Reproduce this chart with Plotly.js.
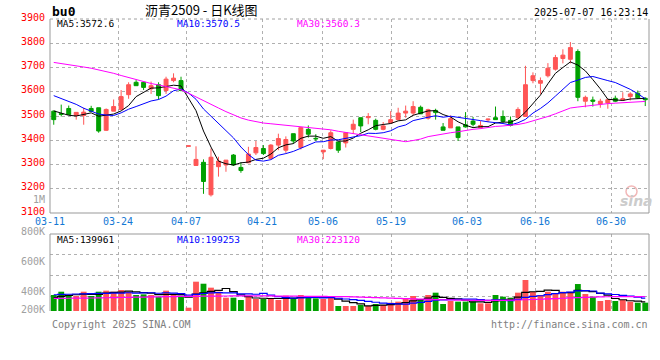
<!DOCTYPE html>
<html><head><meta charset="utf-8">
<script src="https://cdn.plot.ly/plotly-3.0.1.min.js"></script>
<style>html,body{margin:0;padding:0;background:#fff}#chart{width:660px;height:360px}</style>
</head><body><div id="chart"></div>
<script>
const dates = ['03-11','03-12','03-13','03-14','03-17','03-18','03-19','03-20','03-21','03-24','03-25','03-26','03-27','03-28','03-31','04-01','04-02','04-03','04-07','04-08','04-09','04-10','04-11','04-14','04-15','04-16','04-17','04-18','04-21','04-22','04-23','04-24','04-25','04-28','04-29','04-30','05-06','05-07','05-08','05-09','05-12','05-13','05-14','05-15','05-16','05-19','05-20','05-21','05-22','05-23','05-26','05-27','05-28','05-29','05-30','06-03','06-04','06-05','06-06','06-09','06-10','06-11','06-12','06-13','06-16','06-17','06-18','06-19','06-20','06-23','06-24','06-25','06-26','06-27','06-30','07-01','07-02','07-03','07-04','07-07'];
const open  = [3520,3510,3531,3502,3502,3531,3534,3441,3520,3527, 3588,3639,3639,3612,3629,3605,3646,3646,3375,3296, 3309,3175,3291,3298,3339,3288,3307,3348,3366,3325, 3380,3359,3427,3370,3445,3408,3352,3366,3393,3389, 3445,3493,3493,3482,3445,3471,3485,3512,3512,3536, 3491,3523,3455,3451,3455,3464,3479,3452,3484,3493, 3498,3482,3493,3498,3646,3635,3666,3693,3737,3734, 3766,3561,3566,3550,3554,3573,3566,3580,3594,3573];
const high  = [3522,3547,3543,3515,3534,3542,3534,3531,3568,3607, 3639,3648,3642,3642,3639,3662,3676,3662,3377,3375, 3321,3366,3332,3318,3343,3309,3373,3397,3380,3384, 3427,3416,3427,3455,3461,3425,3359,3441,3393,3434, 3485,3493,3512,3489,3475,3520,3534,3543,3561,3543, 3530,3530,3471,3502,3455,3516,3496,3479,3489,3539, 3523,3498,3536,3707,3680,3659,3718,3752,3775,3805, 3775,3584,3580,3571,3571,3584,3598,3598,3605,3577];
const low   = [3464,3498,3506,3485,3464,3518,3431,3438,3520,3527, 3571,3625,3607,3591,3568,3591,3639,3602,3374,3296, 3179,3168,3250,3270,3294,3266,3307,3339,3339,3321, 3359,3348,3386,3362,3411,3397,3322,3362,3348,3370, 3427,3434,3466,3441,3441,3471,3482,3493,3502,3509, 3485,3485,3441,3451,3397,3452,3457,3448,3475,3485, 3471,3457,3489,3498,3635,3591,3659,3687,3717,3717, 3561,3536,3539,3534,3530,3557,3564,3564,3571,3541];
const close = [3485,3507,3506,3515,3516,3519,3438,3527,3539,3580, 3629,3625,3618,3625,3584,3652,3656,3605,3377,3321, 3230,3330,3314,3318,3298,3275,3343,3370,3345,3380, 3407,3403,3397,3452,3425,3406,3359,3431,3359,3431, 3466,3459,3498,3445,3459,3485,3512,3520,3539,3509, 3526,3514,3441,3489,3411,3455,3466,3461,3487,3485, 3478,3461,3527,3629,3666,3646,3697,3741,3751,3782, 3577,3577,3561,3561,3567,3561,3571,3591,3575,3567];
const ma5  = [3521,3513,3503,3500,3506,3513,3499,3503,3508,3521, 3543,3580,3598,3615,3616,3621,3627,3624,3575,3522, 3438,3372,3314,3303,3298,3307,3310,3321,3326,3343, 3369,3381,3386,3408,3417,3417,3408,3415,3396,3397, 3409,3429,3443,3460,3465,3469,3480,3484,3503,3513, 3521,3522,3506,3496,3476,3462,3452,3456,3456,3471, 3475,3474,3488,3516,3552,3586,3633,3676,3700,3723, 3710,3686,3650,3612,3569,3565,3564,3570,3573,3573];
const ma10 = [3584,3572,3561,3548,3532,3520,3508,3504,3502,3513, 3528,3539,3551,3562,3568,3582,3604,3611,3595,3569, 3529,3500,3469,3439,3410,3372,3341,3318,3314,3320, 3338,3345,3354,3367,3380,3393,3394,3401,3402,3407, 3413,3419,3429,3428,3431,3439,3455,3463,3481,3489, 3495,3501,3495,3499,3495,3492,3487,3481,3476,3474, 3469,3463,3472,3486,3512,3531,3554,3582,3608,3638, 3648,3659,3663,3656,3646,3638,3625,3610,3592,3571];
const ma30 = [3721,3717,3712,3707,3702,3697,3691,3684,3676,3667, 3658,3649,3641,3634,3628,3622,3617,3608,3594,3578, 3563,3548,3533,3518,3504,3492,3483,3476,3471,3468, 3465,3461,3458,3456,3453,3449,3446,3443,3437,3432, 3427,3421,3417,3411,3407,3401,3397,3394,3399,3405, 3415,3421,3426,3431,3435,3441,3445,3448,3453,3457, 3459,3461,3465,3471,3479,3487,3498,3509,3522,3533, 3537,3541,3543,3547,3551,3553,3555,3558,3559,3560];
const volK = [246,297,231,231,297,231,297,313,297,323, 297,246,256,246,220,313,246,236,51,451, 420,359,297,205,205,169,236,185,185,185, 169,236,205,246,231,195,185,231,77,77, 77,92,77,108,92,128,144,185,231,185, 246,282,108,154,144,144,144,118,118,246, 220,205,282,477,297,246,297,272,297,297, 415,262,220,154,169,154,169,144,128,128];
const volMa5 = [205,225,240,250,260,257,257,274,287,292, 305,295,284,274,253,256,256,252,213,259, 281,303,316,346,297,247,222,200,196,192, 192,192,196,208,217,223,212,218,184,153, 129,111,80,86,89,99,110,131,156,175, 198,226,210,195,187,166,139,141,134,154, 169,181,214,286,296,301,320,318,282,282, 316,309,298,270,244,192,173,158,153,140];
const volMa10 = [250,255,258,262,265,268,270,272,274,276, 281,276,279,281,273,281,276,268,244,256, 269,280,284,280,278,264,263,258,271,245, 220,207,198,202,205,208,202,207,196,185, 176,162,149,135,121,114,111,106,121,132, 149,168,171,176,181,182,183,176,165,171, 168,160,178,210,225,235,251,266,284,289, 309,315,308,276,263,254,241,228,212,199];
const volMa30 = [195,195,196,197,198,200,202,204,206,208, 210,212,214,216,218,220,222,224,225,226, 228,229,230,231,232,233,234,234,233,232, 230,229,228,227,226,225,224,223,222,221, 218,214,210,206,202,198,194,190,186,182, 179,176,173,170,168,166,164,163,162,162, 164,166,169,173,177,181,186,191,196,201, 206,210,214,217,219,220,221,222,222,223];
const tickLabels = ['03-11','03-24','04-07','04-21','05-06','05-19','06-03','06-16','06-30'];
const priceTicks = [3100,3200,3300,3400,3500,3600,3700,3800,3900];
const volLabels = ['1M','800K','600K','400K','200K'];
const legendPrice = ['MA5:3572.6','MA10:3570.5','MA30:3560.3'];
const legendVol = ['MA5:139961','MA10:199253','MA30:223120'];

const N = dates.length;
const xIdx = dates.map((d, i) => i);
const UP = '#ff5555', DOWN = '#00a000';
const MA_COLORS = ['#000000', '#0000ff', '#ff00ff'];
const MONO = 'DejaVu Sans Mono, monospace';
const volColors = close.map((c, i) => (c >= open[i] ? UP : DOWN));
const tickPos = tickLabels.map(t => dates.indexOf(t) * N / (N - 1) - 0.5);

const H = 360, T = 19, B = 49, plotH = H - T - B;
const py = ypx => (H - B - ypx) / plotH;      // paper y from pixel row
const px = xpx => (xpx - 50) / 599;           // paper x from pixel column
const priceDom = [py(213), 1];
const volDom = [0, py(234)];
const volTop = 1185;
const volGrid = [1, 2, 3].map(k => volTop * (1 - k * 20.7 / 77));

const traces = [];
traces.push({
  type: 'candlestick', x: xIdx, open: open, high: high, low: low, close: close,
  xaxis: 'x', yaxis: 'y', whiskerwidth: 0, hoverinfo: 'skip',
  increasing: {line: {color: UP, width: 1}, fillcolor: UP},
  decreasing: {line: {color: DOWN, width: 1}, fillcolor: DOWN},
  showlegend: false
});
[ma5, ma10, ma30].forEach((s, k) => traces.push({
  type: 'scatter', mode: 'lines', x: xIdx, y: s, xaxis: 'x', yaxis: 'y',
  line: {color: MA_COLORS[k], width: 1}, hoverinfo: 'skip', showlegend: false
}));
traces.push({
  type: 'bar', x: xIdx, y: volK, xaxis: 'x2', yaxis: 'y2', width: 0.78,
  marker: {color: volColors, line: {width: 0}}, hoverinfo: 'skip', showlegend: false
});
[volMa5, volMa10, volMa30].forEach((s, k) => traces.push({
  type: 'scatter', mode: 'lines', x: xIdx, y: s, xaxis: 'x2', yaxis: 'y2',
  line: {color: MA_COLORS[k], width: 1.2, shape: 'hvh'}, hoverinfo: 'skip', showlegend: false
}));

const gridStyle = {showgrid: true, gridcolor: '#b0b0b0', gridwidth: 1, griddash: 'dot', zeroline: false, showline: false, ticks: ''};

const ann = [];
const txt = (text, x, y, xanchor, color, size, extra) => ann.push(Object.assign({
  text: text, x: x, y: y, xref: 'paper', yref: 'paper', xanchor: xanchor, yanchor: 'middle',
  showarrow: false, font: {family: MONO, size: size, color: color}
}, extra || {}));

// price axis labels (drawn a little above their grid lines, as in the reference)
priceTicks.forEach(v => txt(String(v), px(47), v, 'right', '#ff0000', 10, {yref: 'y', yshift: 2}));
// date labels under the price panel
tickLabels.forEach((t, k) => txt(t, tickPos[k], py(221.5), 'center', '#1478d4', 10, {xref: 'x'}));

txt('bu0', px(50), py(11.5), 'left', '#000', 13, {font: {family: MONO, size: 13, color: '#000', weight: 'bold'}});
txt('沥青2509 - 日K线图', px(201), py(10), 'center', '#000', 13, {font: {family: 'Noto Sans CJK SC', size: 13, color: '#000'}});
txt('2025-07-07 16:23:14', px(650), py(12), 'right', '#000', 10);
[55, 175, 295].forEach((x, k) => {
  txt(legendPrice[k], px(x), py(24), 'left', MA_COLORS[k], 9.5);
  txt(legendVol[k], px(x), py(239), 'left', MA_COLORS[k], 9.5);
});
[199, 231, 261, 291, 309.5].forEach((y, k) => txt(volLabels[k], px(47), py(y), 'right', '#a0a0a0', 10));
txt('Copyright 2025 SINA.COM', px(50), py(324), 'left', '#808080', 10);
txt('http://finance.sina.com.cn', px(650), py(324), 'right', '#808080', 10);
txt('sina', px(636), py(201), 'center', '#cccccc', 14, {font: {family: 'DejaVu Sans', size: 14, color: '#cccccc', weight: 'bold', style: 'italic'}});

const line = (x0, y0, x1, y1, dash, color) => ({type: 'line', xref: 'paper', yref: 'paper', x0: x0, y0: y0, x1: x1, y1: y1,
  line: {color: color || '#999999', width: 1, dash: dash || 'solid'}, layer: 'above'});
const shapes = [
  line(0, priceDom[0], 0, priceDom[1]), line(1, priceDom[0], 1, priceDom[1]),
  line(0, priceDom[0], 1, priceDom[0]), line(0, priceDom[1], 1, priceDom[1], 'dot', '#a0a0a0'),
  line(0, volDom[0], 0, volDom[1]), line(1, volDom[0], 1, volDom[1]),
  line(0, volDom[1], 1, volDom[1]),
  // faint logo mark above the watermark text
  {type: 'circle', xref: 'paper', yref: 'paper', x0: px(626), x1: px(637), y0: py(197), y1: py(186),
   line: {color: '#f2b8b8', width: 1.5}, fillcolor: 'rgba(0,0,0,0)', layer: 'below'}
];

const layout = {
  width: 660, height: 360, margin: {l: 50, r: 11, t: T, b: B, autoexpand: false},
  paper_bgcolor: '#ffffff', plot_bgcolor: '#ffffff', showlegend: false, boxgap: 0.25,
  font: {family: MONO, size: 10},
  xaxis: Object.assign({}, gridStyle, {
    domain: [0, 1], anchor: 'y', range: [-0.5, N - 0.5], tickmode: 'array', tickvals: tickPos,
    showticklabels: false, rangeslider: {visible: false}, fixedrange: true
  }),
  yaxis: Object.assign({}, gridStyle, {
    domain: priceDom, anchor: 'x', range: [3100, 3900], tickmode: 'array', tickvals: priceTicks,
    showticklabels: false, fixedrange: true
  }),
  xaxis2: Object.assign({}, gridStyle, {
    domain: [0, 1], anchor: 'y2', range: [-0.5, N - 0.5], tickmode: 'array', tickvals: tickPos, showticklabels: false, fixedrange: true
  }),
  yaxis2: Object.assign({}, gridStyle, {
    domain: volDom, anchor: 'x2', range: [0, volTop], tickmode: 'array', tickvals: volGrid, showticklabels: false, fixedrange: true
  }),
  annotations: ann, shapes: shapes
};

Plotly.newPlot('chart', traces, layout, {staticPlot: true, displayModeBar: false});
</script>
</body></html>
